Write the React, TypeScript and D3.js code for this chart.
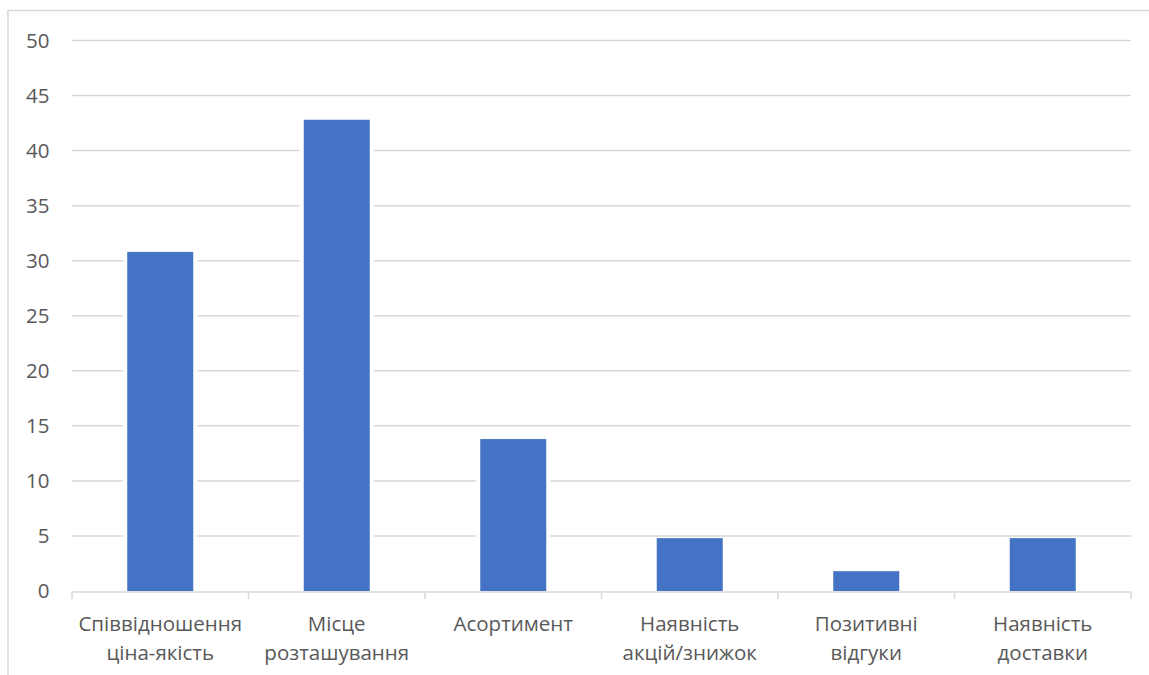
import React from "react";
import * as d3 from "d3";

const categories: string[][] = [
  ["Співвідношення", "ціна-якість"],
  ["Місце", "розташування"],
  ["Асортимент"],
  ["Наявність", "акцій/знижок"],
  ["Позитивні", "відгуки"],
  ["Наявність", "доставки"],
];
const values: number[] = [30.8, 42.8, 13.8, 4.8, 1.8, 4.8];
const yTicks: number[] = [0, 5, 10, 15, 20, 25, 30, 35, 40, 45, 50];

const W = 1149;
const H = 675;
const left = 72;
const right = 1131;
const top = 40.5;
const bottom = 591;

export default function App() {
  const x = d3
    .scaleBand<number>()
    .domain(d3.range(categories.length))
    .range([left, right])
    .paddingInner(0.626)
    .paddingOuter(0.313);
  const y = d3.scaleLinear().domain([0, 50]).range([bottom, top]);
  const step = x.step();
  const font = "'Open Sans', 'Noto Sans', sans-serif";
  const textColor = "#595959";
  const gridColor = "#d9d9d9";

  return (
    <svg
      width={W}
      height={H}
      style={{ position: "absolute", left: 0, top: 0, background: "#fff" }}
    >
      <rect x={0} y={0} width={W} height={H} fill="#fff" />
      {/* chart border */}
      <line x1={8} x2={W} y1={10.5} y2={10.5} stroke={gridColor} strokeWidth={1.5} />
      <line x1={8} x2={8} y1={10} y2={H} stroke={gridColor} strokeWidth={1.5} />
      {/* gridlines */}
      {yTicks.slice(1).map((t) => (
        <line key={t} x1={left} x2={right} y1={y(t)} y2={y(t)} stroke={gridColor} strokeWidth={1.5} />
      ))}
      {/* y labels */}
      {yTicks.map((t) => (
        <text
          key={"l" + t}
          x={49.5}
          y={y(t)}
          dy="0.36em"
          textAnchor="end"
          fontFamily={font}
          fontSize={20.5}
          fill={textColor}
        >
          {t}
        </text>
      ))}
      {/* bars */}
      {values.map((v, i) => (
        <g key={"b" + i}>
          <rect
            x={x(i)! - 4}
            y={y(v) - 1}
            width={x.bandwidth() + 8}
            height={y(0) - y(v) + 1}
            fill="#fff"
          />
          <rect
            x={x(i)!}
            y={y(v)}
            width={x.bandwidth()}
            height={y(0) - y(v)}
            fill="#4472c4"
          />
        </g>
      ))}
      {/* x axis */}
      <line x1={left} x2={right} y1={bottom + 1} y2={bottom + 1} stroke={gridColor} strokeWidth={1.5} />
      {d3.range(categories.length + 1).map((i) => (
        <line
          key={"t" + i}
          x1={left + i * step}
          x2={left + i * step}
          y1={bottom + 1}
          y2={bottom + 8}
          stroke={gridColor}
          strokeWidth={1.5}
        />
      ))}
      {categories.map((lines, i) => (
        <text
          key={"c" + i}
          x={x(i)! + x.bandwidth() / 2}
          y={631}
          textAnchor="middle"
          fontFamily={font}
          fontSize={20.5}
          fill={textColor}
        >
          {lines.map((ln, j) => (
            <tspan key={j} x={x(i)! + x.bandwidth() / 2} dy={j === 0 ? 0 : 28.5}>
              {ln}
            </tspan>
          ))}
        </text>
      ))}
    </svg>
  );
}
